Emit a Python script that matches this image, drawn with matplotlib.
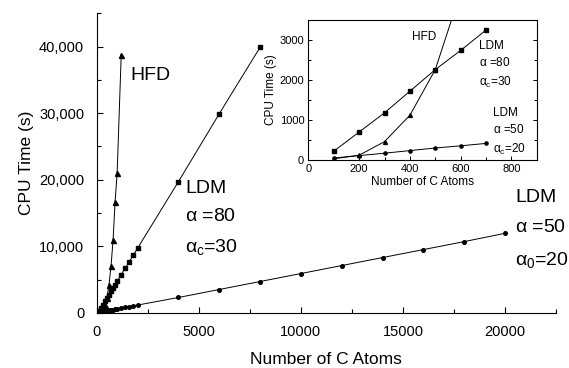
"""
CPU time vs number of C atoms: HFD vs LDM, with small-N inset
"""
import numpy as np
import matplotlib
matplotlib.use('Agg')
import matplotlib.pyplot as plt
from matplotlib.ticker import MultipleLocator, FuncFormatter

plt.rcParams['font.family'] = ['Liberation Sans', 'DejaVu Sans']
plt.rcParams['mathtext.fontset'] = 'custom'
plt.rcParams['mathtext.rm'] = 'Liberation Sans'
plt.rcParams['mathtext.it'] = 'Liberation Sans'

# HFD data
hfd_n = [100, 200, 300, 400, 500, 600, 700, 800, 900, 1000, 1200]
hfd_t = [30, 120, 460, 1120, 2260, 4200, 7000, 10900, 16700, 21000, 38800]

# LDM alpha=80, alpha_c=30
ldm80_n = [100, 200, 300, 400, 500, 600, 700, 800, 900, 1000,
           1200, 1400, 1600, 1800, 2000, 4000, 6000, 8000]
ldm80_t = [220, 700, 1180, 1720, 2260, 2740, 3250, 3750, 4250, 4750,
           5750, 6750, 7700, 8700, 9700, 19700, 29900, 39900]

# LDM alpha=50, alpha_0=20
ldm50_n = [100, 200, 300, 400, 500, 600, 700, 800, 900, 1000,
           1200, 1400, 1600, 1800, 2000, 4000, 6000, 8000, 10000,
           12000, 14000, 16000, 18000, 20000]
ldm50_t = [50, 110, 170, 235, 300, 355, 415, 470, 530, 590,
           700, 820, 930, 1050, 1160, 2300, 3500, 4700, 5900,
           7100, 8300, 9500, 10700, 11950]

# inset shows only the small systems
n_hfd_inset = 6
n_ldm_inset = 7

fig = plt.figure(figsize=(5.69, 3.68), dpi=100)
ax = fig.add_axes([0.170, 0.150, 0.8072, 0.8136])

lw = 0.7
ax.plot(hfd_n, hfd_t, 'k-^', lw=lw, ms=3.6)
ax.plot(ldm80_n, ldm80_t, 'k-s', lw=lw, ms=2.9)
ax.plot(ldm50_n, ldm50_t, 'k-o', lw=lw, ms=2.6)

ax.set_xlim(0, 22500)
ax.set_ylim(0, 45000)
ax.spines['top'].set_visible(False)
ax.spines['right'].set_visible(False)
ax.xaxis.set_major_locator(MultipleLocator(5000))
ax.xaxis.set_minor_locator(MultipleLocator(2500))
ax.yaxis.set_major_locator(MultipleLocator(10000))
ax.yaxis.set_minor_locator(MultipleLocator(5000))
ax.yaxis.set_major_formatter(FuncFormatter(lambda v, p: '{:,.0f}'.format(v)))
ax.tick_params(which='both', direction='in', labelsize=10.5, width=0.8)
ax.tick_params(which='major', length=4, pad=9)
ax.tick_params(which='minor', length=3)
ax.set_xlabel('Number of C Atoms', fontsize=12.5, labelpad=9)
ax.set_ylabel('CPU Time (s)', fontsize=12.5, labelpad=4)

big = 14
ax.text(1630, 35700, 'HFD', fontsize=big, va='center')
ax.text(4330, 18750, 'LDM', fontsize=big, va='center')
ax.text(4330, 14440, r'$\alpha$ =80', fontsize=big, va='center')
ax.text(4330, 9920, r'$\alpha_{\rm c}$=30', fontsize=big, va='center')
ax.text(20500, 17300, 'LDM', fontsize=big, va='center')
ax.text(20500, 12800, r'$\alpha$ =50', fontsize=big, va='center')
ax.text(20500, 8000, r'$\alpha_{\rm 0}$=20', fontsize=big, va='center')

# Inset
axi = fig.add_axes([0.542, 0.5652, 0.4014, 0.3804])
axi.plot(hfd_n[:n_hfd_inset], hfd_t[:n_hfd_inset], 'k-^', lw=lw, ms=2.8)
axi.plot(ldm80_n[:n_ldm_inset], ldm80_t[:n_ldm_inset], 'k-s', lw=lw, ms=2.6)
axi.plot(ldm50_n[:n_ldm_inset], ldm50_t[:n_ldm_inset], 'k-o', lw=lw, ms=2.3)
axi.set_xlim(0, 900)
axi.set_ylim(0, 3500)
axi.xaxis.set_major_locator(MultipleLocator(200))
axi.xaxis.set_minor_locator(MultipleLocator(100))
axi.yaxis.set_major_locator(MultipleLocator(1000))
axi.yaxis.set_minor_locator(MultipleLocator(500))
axi.tick_params(which='both', direction='in', labelsize=8, width=0.7, right=True)
axi.tick_params(which='major', length=3, pad=3)
axi.tick_params(which='minor', length=2)
axi.set_xlabel('Number of C Atoms', fontsize=8.5, labelpad=1)
axi.set_ylabel('CPU Time (s)', fontsize=8.5, labelpad=2)

small = 8.5
axi.text(408, 3067, 'HFD', fontsize=small, va='center')
axi.text(673, 2840, 'LDM', fontsize=small, va='center')
axi.text(673, 2430, r'$\alpha$ =80', fontsize=small, va='center')
axi.text(673, 1928, r'$\alpha_{\rm c}$=30', fontsize=small, va='center')
axi.text(728, 1174, 'LDM', fontsize=small, va='center')
axi.text(728, 771, r'$\alpha$ =50', fontsize=small, va='center')
axi.text(728, 274, r'$\alpha_{\rm c}$=20', fontsize=small, va='center')

fig.savefig('out.png', dpi=100)
